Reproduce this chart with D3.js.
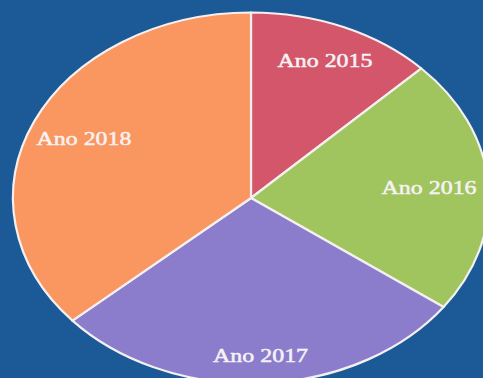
<!DOCTYPE html>
<html>
<head>
<meta charset="utf-8">
<script src="https://cdn.jsdelivr.net/npm/d3@7"></script>
<style>
  html, body { margin: 0; padding: 0; background: #1c5a97; }
  svg { display: block; }
</style>
</head>
<body>
<script>
// Share of each year (percent)
const categories = ["Ano 2015", "Ano 2016", "Ano 2017", "Ano 2018"];
const values = [12.7, 22.3, 28.5, 36.5];
const colors = ["#d4566b", "#a0c45e", "#8b7dcc", "#fa965f"];

const W = 483, H = 378;
const cx = 251, cy = 198;
const ry = 185.5, rx = 238;
const stretch = rx / ry;
// radial position of each label, as a fraction of the radius
const labelRadius = [0.80, 0.75, 0.85, 0.77];

const svg = d3.select("body").append("svg")
  .attr("width", W).attr("height", H);

svg.append("rect").attr("width", W).attr("height", H).attr("fill", "#1c5a97");

const pie = d3.pie().sort(null).value(d => d)(values);
const arc = d3.arc().innerRadius(0).outerRadius(ry);

const g = svg.append("g")
  .attr("transform", `translate(${cx},${cy}) scale(${stretch},1)`);

g.selectAll("path.slice")
  .data(pie)
  .join("path")
  .attr("class", "slice")
  .attr("d", arc)
  .attr("fill", (d, i) => colors[i])
  .attr("stroke", "#f4f0f0")
  .attr("stroke-width", 2.2)
  .attr("stroke-linejoin", "round")
  .attr("vector-effect", "non-scaling-stroke");

// labels placed along each slice's mid-angle
const labels = svg.selectAll("g.label")
  .data(pie)
  .join("g")
  .attr("class", "label")
  .attr("transform", (d, i) => {
    const a = (d.startAngle + d.endAngle) / 2;
    const r = ry * labelRadius[i];
    const x = cx + Math.sin(a) * r * stretch;
    const y = cy - Math.cos(a) * r;
    return `translate(${x},${y}) scale(1.26,1)`;
  });

labels.append("text")
  .attr("text-anchor", "middle")
  .attr("dominant-baseline", "central")
  .attr("font-family", "'Liberation Serif', 'Times New Roman', serif")
  .attr("font-size", 19)
  .attr("fill", "#f6f2f4")
  .attr("stroke", "#f6f2f4")
  .attr("stroke-width", 0.5)
  .text((d, i) => categories[i]);
</script>
</body>
</html>
